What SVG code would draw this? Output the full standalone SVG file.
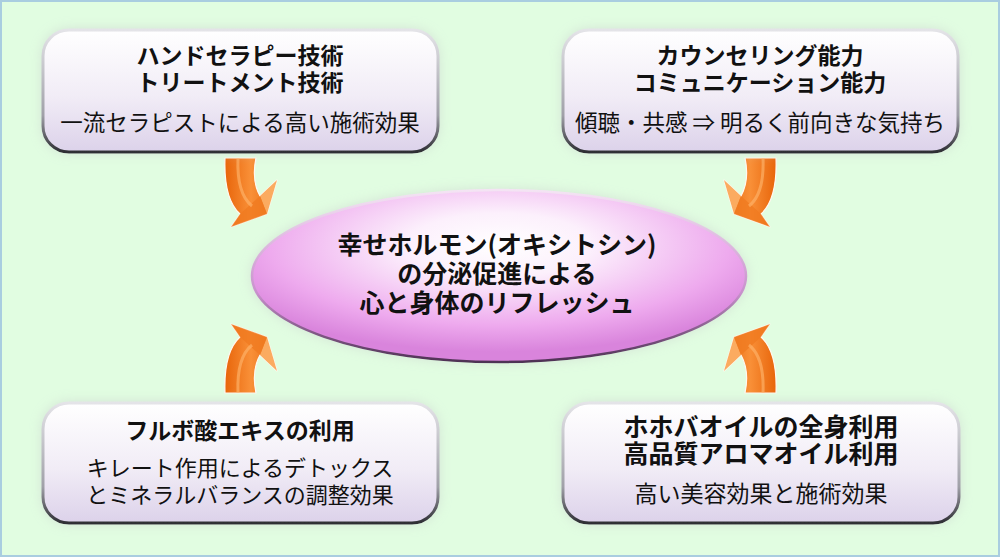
<svg xmlns="http://www.w3.org/2000/svg" xmlns:xlink="http://www.w3.org/1999/xlink" width="1000" height="557" viewBox="0 0 1000 557">
<style>
.title{font-family:"Noto Sans CJK JP","Liberation Sans",sans-serif;font-weight:bold;font-size:23px;fill:#111;text-anchor:middle}
.sub{font-family:"Noto Sans CJK JP","Liberation Serif",serif;font-weight:normal;font-size:22px;fill:#111;text-anchor:middle}
.ctr{font-family:"Noto Sans CJK JP","Liberation Sans",sans-serif;font-weight:bold;font-size:25px;fill:#111;text-anchor:middle}
.box{fill:url(#boxFill);stroke:url(#boxStroke);stroke-width:3;filter:url(#glow)}
</style>
<defs>
<linearGradient id="boxFill" x1="0" y1="0" x2="0" y2="1">
<stop offset="0" stop-color="#ffffff"/>
<stop offset="0.55" stop-color="#f1ecf6"/>
<stop offset="1" stop-color="#dcd2ea"/>
</linearGradient>
<linearGradient id="boxStroke" x1="0" y1="0" x2="0" y2="1">
<stop offset="0" stop-color="#e4e4e8"/>
<stop offset="0.7" stop-color="#a0a0a8"/>
<stop offset="1" stop-color="#2e2e34"/>
</linearGradient>
<radialGradient id="ellFill" cx="0.5" cy="0.32" r="0.62">
<stop offset="0" stop-color="#ffffff"/>
<stop offset="0.3" stop-color="#fcf0fc"/>
<stop offset="0.75" stop-color="#eeaaee"/>
<stop offset="1" stop-color="#d984dc"/>
</radialGradient>
<linearGradient id="ellStroke" x1="0" y1="0" x2="0" y2="1">
<stop offset="0" stop-color="#f4e4f4"/>
<stop offset="0.6" stop-color="#c890cc"/>
<stop offset="1" stop-color="#4e3054"/>
</linearGradient>
<linearGradient id="arrFill" x1="0" y1="0" x2="1" y2="0">
<stop offset="0" stop-color="#e8650a"/>
<stop offset="0.5" stop-color="#f99038"/>
<stop offset="1" stop-color="#e56a10"/>
</linearGradient>
<filter id="glow" x="-10%" y="-20%" width="120%" height="140%">
<feGaussianBlur in="SourceAlpha" stdDeviation="6"/>
<feColorMatrix type="matrix" values="0 0 0 0 0.55  0 0 0 0 0.55  0 0 0 0 0.58  0 0 0 0.45 0"/>
<feMerge><feMergeNode/><feMergeNode in="SourceGraphic"/></feMerge>
</filter>
<g id="arrow">
<path d="M225,158 C224,185 229,204 240,214 L231,227 L267,214 L277,180 L260,196 C254,185 253,172 256,158 Z" fill="url(#arrFill)" stroke="#fff8f0" stroke-width="1.2" stroke-linejoin="round"/>
<path d="M277,180 L260,196 L267,214 Z" fill="#fbab60"/>
<path d="M240,214 L231,227 L267,214 L260,196 Z" fill="#f07a20" opacity="0.8"/>
<path d="M238,158 C237,182 242,198 252,206" fill="none" stroke="#ffb870" stroke-width="3" opacity="0.6"/>
</g>
</defs>
<rect x="0" y="0" width="1000" height="557" fill="#e1fde1"/>
<rect x="1" y="1" width="998" height="555" fill="none" stroke="#a9cde0" stroke-width="2"/>

<g id="connectors">
<use xlink:href="#arrow"/>
<use xlink:href="#arrow" transform="translate(1001,0) scale(-1,1)"/>
<use xlink:href="#arrow" transform="translate(0,551) scale(1,-1)"/>
<use xlink:href="#arrow" transform="translate(1001,551) scale(-1,-1)"/>
</g>

<g id="center">
<ellipse cx="499" cy="276" rx="247" ry="86" fill="url(#ellFill)" stroke="url(#ellStroke)" stroke-width="2.5" filter="url(#glow)"/>
<text class="ctr" x="497" y="254">幸せホルモン(オキシトシン)</text>
<text class="ctr" x="497" y="283">の分泌促進による</text>
<text class="ctr" x="497" y="312">心と身体のリフレッシュ</text>
</g>

<g id="node-tl">
<rect class="box" x="43" y="30" width="395" height="122" rx="26"/>
<text class="title" x="240" y="64">ハンドセラピー技術</text>
<text class="title" x="240" y="91">トリートメント技術</text>
<text class="sub" x="240" y="131" style="font-size:22.5px">一流セラピストによる高い施術効果</text>
</g>

<g id="node-tr">
<rect class="box" x="563" y="30" width="395" height="122" rx="26"/>
<text class="title" x="760" y="64">カウンセリング能力</text>
<text class="title" x="760" y="91">コミュニケーション能力</text>
<text class="sub" x="760" y="131" style="font-size:22.5px">傾聴・共感 ⇒ 明るく前向きな気持ち</text>
</g>

<g id="node-bl">
<rect class="box" x="43" y="403" width="395" height="120" rx="26"/>
<text class="title" x="240" y="439">フルボ酸エキスの利用</text>
<text class="sub" x="240" y="476">キレート作用によるデトックス</text>
<text class="sub" x="240" y="503">とミネラルバランスの調整効果</text>
</g>

<g id="node-br">
<rect class="box" x="563" y="403" width="396" height="120" rx="26"/>
<text class="title" x="761" y="436" style="font-size:25px">ホホバオイルの全身利用</text>
<text class="title" x="761" y="463" style="font-size:25px">高品質アロマオイル利用</text>
<text class="sub" x="761" y="502" style="font-size:23px">高い美容効果と施術効果</text>
</g>
</svg>
